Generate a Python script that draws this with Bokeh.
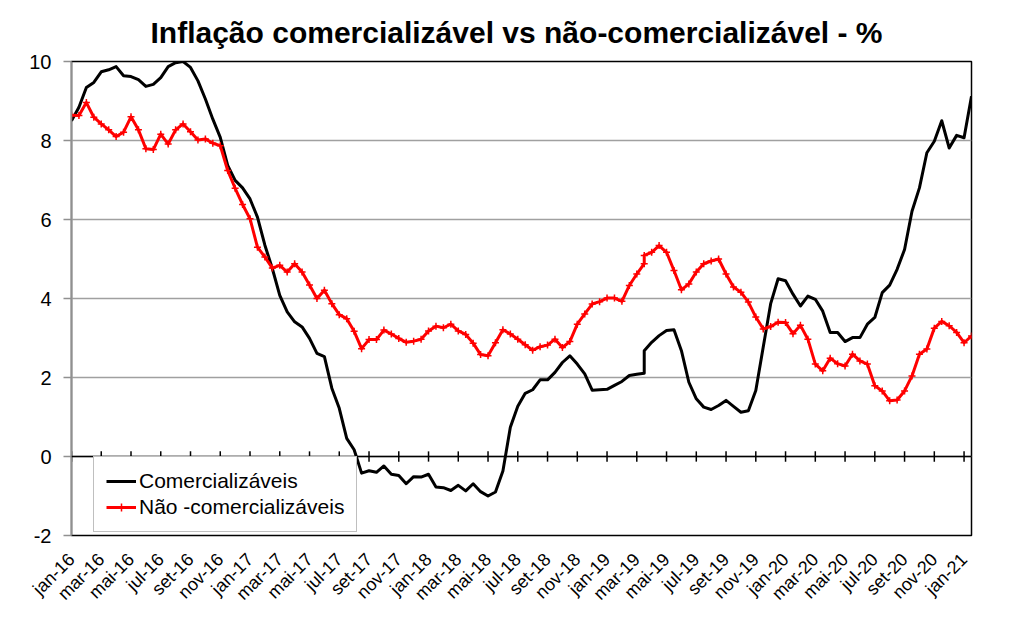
import math
from bokeh.plotting import figure
from bokeh.models import FixedTicker, Range1d, Span
from bokeh.embed import file_html
from bokeh.resources import INLINE

# x positions: months since jan-16 (half-month observations, one repeated date)
months = [i / 2 for i in range(78)] + [i / 2 for i in range(77, 122)]

comercializaveis = [
    8.50, 8.84, 9.34, 9.47, 9.74, 9.79, 9.87, 9.64, 9.62, 9.54,
    9.37, 9.42, 9.59, 9.87, 9.97, 10.0, 9.85, 9.51, 9.05, 8.54,
    8.08, 7.37, 6.99, 6.80, 6.52, 6.06, 5.35, 4.76, 4.08, 3.66,
    3.41, 3.28, 2.99, 2.61, 2.53, 1.73, 1.22, 0.46, 0.17, -0.42,
    -0.36, -0.40, -0.24, -0.45, -0.48, -0.69, -0.51, -0.52, -0.45, -0.77,
    -0.79, -0.86, -0.73, -0.87, -0.69, -0.89, -1.00, -0.90, -0.37, 0.74,
    1.27, 1.60, 1.69, 1.94, 1.94, 2.13, 2.38, 2.55, 2.34, 2.09,
    1.68, 1.69, 1.70, 1.80, 1.90, 2.05, 2.08, 2.11, 2.68, 2.89,
    3.06, 3.19, 3.21, 2.68, 1.88, 1.46, 1.25, 1.19, 1.29, 1.42,
    1.27, 1.12, 1.16, 1.67, 2.77, 3.87, 4.50, 4.45, 4.11, 3.81,
    4.06, 3.98, 3.68, 3.14, 3.14, 2.91, 3.01, 3.01, 3.35, 3.52,
    4.15, 4.34, 4.74, 5.24, 6.21, 6.80, 7.69, 7.98, 8.50, 7.81,
    8.13, 8.07, 9.12,
]

nao_comercializaveis = [
    8.64, 8.63, 8.96, 8.59, 8.42, 8.27, 8.10, 8.21, 8.60, 8.27,
    7.79, 7.77, 8.16, 7.91, 8.27, 8.42, 8.22, 8.01, 8.04, 7.93,
    7.87, 7.24, 6.79, 6.38, 6.02, 5.30, 5.05, 4.77, 4.84, 4.67,
    4.88, 4.67, 4.34, 4.00, 4.21, 3.87, 3.59, 3.49, 3.17, 2.73,
    2.96, 2.96, 3.20, 3.10, 2.99, 2.89, 2.92, 2.97, 3.18, 3.30,
    3.26, 3.35, 3.18, 3.09, 2.87, 2.58, 2.55, 2.88, 3.21, 3.10,
    2.97, 2.83, 2.69, 2.78, 2.82, 2.97, 2.76, 2.91, 3.35, 3.61,
    3.86, 3.92, 4.01, 4.01, 3.93, 4.33, 4.62, 4.88, 5.09, 5.17,
    5.34, 5.17, 4.71, 4.22, 4.37, 4.67, 4.88, 4.95, 5.00, 4.62,
    4.29, 4.16, 3.91, 3.53, 3.23, 3.29, 3.40, 3.39, 3.11, 3.32,
    2.97, 2.34, 2.17, 2.49, 2.35, 2.29, 2.59, 2.42, 2.34, 1.79,
    1.66, 1.41, 1.43, 1.66, 2.04, 2.59, 2.72, 3.25, 3.42, 3.31,
    3.14, 2.88, 3.05,
]

tick_labels = [
    "jan-16", "mar-16", "mai-16", "jul-16", "set-16", "nov-16",
    "jan-17", "mar-17", "mai-17", "jul-17", "set-17", "nov-17",
    "jan-18", "mar-18", "mai-18", "jul-18", "set-18", "nov-18",
    "jan-19", "mar-19", "mai-19", "jul-19", "set-19", "nov-19",
    "jan-20", "mar-20", "mai-20", "jul-20", "set-20", "nov-20",
    "jan-21",
]
tick_pos = [2 * k for k in range(len(tick_labels))]
y_ticks = [-2, 0, 2, 4, 6, 8, 10]
y_labels = ["-2", "0", "2", "4", "6", "8", "10"]

FONT = "Liberation Sans"

p = figure(width=1008, height=622, output_backend="svg", toolbar_location=None,
           x_range=Range1d(0, 60.5), y_range=Range1d(-2, 10),
           min_border_left=71, min_border_right=37, min_border_top=60,
           min_border_bottom=87)

p.title.text = "Inflação comercializável vs não-comercializável - %"
p.title.text_font = FONT
p.title.text_font_size = "30px"
p.title.text_font_style = "bold"
p.title.align = "left"
p.title.offset = 79
p.title.standoff = 26
p.title.text_color = "black"

p.outline_line_color = "black"
p.outline_line_width = 1.5
p.background_fill_color = "white"
p.border_fill_color = "white"

p.xgrid.visible = False
p.ygrid.ticker = FixedTicker(ticks=y_ticks)
p.ygrid.grid_line_color = "#a0a0a0"
p.ygrid.grid_line_width = 1.5

# axes
p.xaxis.ticker = FixedTicker(ticks=tick_pos)
p.xaxis.major_label_overrides = {t: l for t, l in zip(tick_pos, tick_labels)}
p.xaxis.major_label_orientation = math.pi / 4
p.xaxis.major_label_text_font = FONT
p.xaxis.major_label_text_font_size = "18px"
p.xaxis.major_label_text_color = "black"
p.xaxis.major_label_standoff = 15
p.xaxis.axis_line_color = None
p.xaxis.major_tick_line_color = None
p.xaxis.minor_tick_line_color = None

p.yaxis.ticker = FixedTicker(ticks=y_ticks)
p.yaxis.major_label_overrides = {t: l for t, l in zip(y_ticks, y_labels)}
p.yaxis.major_label_text_font = FONT
p.yaxis.major_label_text_font_size = "20px"
p.yaxis.major_label_text_color = "black"
p.yaxis.major_label_standoff = 12
p.yaxis.axis_line_color = "#909090"
p.yaxis.axis_line_width = 1.5
p.yaxis.major_tick_line_color = "#909090"
p.yaxis.major_tick_line_width = 1.5
p.yaxis.major_tick_out = 8
p.yaxis.major_tick_in = 0
p.yaxis.minor_tick_line_color = None

# zero axis line with cross tick marks
p.add_layout(Span(location=0, dimension="width", line_color="black", line_width=1.5))
p.segment(x0=tick_pos, y0=[-0.13] * len(tick_pos), x1=tick_pos, y1=[0.13] * len(tick_pos),
          line_color="black", line_width=1.5)

p.line(months, comercializaveis, line_color="black", line_width=3, line_join="round",
       legend_label="Comercializáveis")
p.line(months, nao_comercializaveis, line_color="red", line_width=3, line_join="round",
       legend_label="Não -comercializáveis")
p.scatter(months, nao_comercializaveis, marker="cross", size=7, line_color="red",
          line_width=1.5, legend_label="Não -comercializáveis")

lg = p.legend[0]
lg.location = (22, 3)
lg.label_text_font = FONT
lg.label_text_font_size = "21px"
lg.label_text_color = "black"
lg.glyph_width = 30
lg.glyph_height = 20
lg.label_height = 20
lg.label_standoff = 3
lg.spacing = 2
lg.padding = 12
lg.margin = 0
lg.border_line_color = "#808080"
lg.border_line_width = 1.5
lg.background_fill_color = "white"
lg.background_fill_alpha = 1.0

open("out.html", "w").write(file_html(p, INLINE))
